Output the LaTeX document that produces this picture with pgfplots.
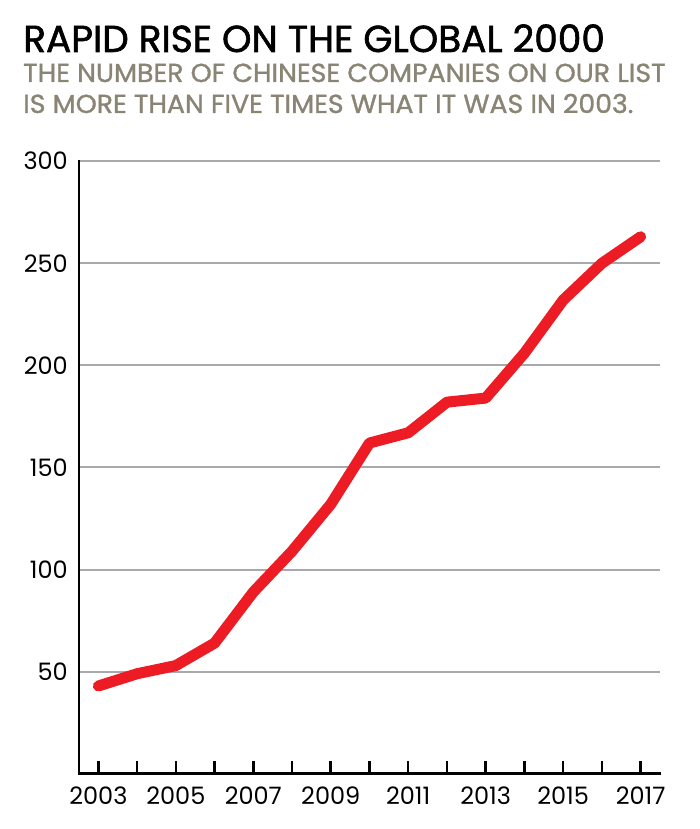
\documentclass[border=0pt]{standalone}
\usepackage{pgfplots}
\pgfplotsset{compat=1.18}
\usepackage{fontspec}
\setmainfont{Poppins}
\newfontfamily\titlefont[FakeBold=1.6]{Poppins}
\newfontfamily\subfont[FakeStretch=1.03, FakeBold=1.2]{Poppins}
\definecolor{linered}{HTML}{ED1C24}
\definecolor{subgrey}{HTML}{8A8474}
\definecolor{gridgrey}{HTML}{A7A9AC}
\begin{document}
\begin{tikzpicture}
\path[use as bounding box] (0,0) rectangle (700pt,829pt);
\node[anchor=base west, inner sep=0, font=\titlefont\fontsize{37.5}{40}\selectfont] at (23pt,777pt) {RAPID RISE ON THE GLOBAL 2000};
\node[anchor=base west, inner sep=0, text=subgrey, font=\subfont\fontsize{26}{28}\selectfont] at (23pt,747pt) {THE NUMBER OF CHINESE COMPANIES ON OUR LIST};
\node[anchor=base west, inner sep=0, text=subgrey, font=\subfont\fontsize{26}{28}\selectfont] at (23pt,716pt) {IS MORE THAN FIVE TIMES WHAT IT WAS IN 2003.};
\begin{axis}[
  at={(79pt,55.2pt)}, anchor=south west,
  scale only axis, width=581pt, height=612.6pt,
  xmin=2002.5, xmax=2017.5, ymin=0, ymax=300,
  axis x line=bottom, axis y line=left,
  axis line style={line width=2.7pt, -, line cap=rect},
  xtick={2003,2004,...,2017},
  xticklabels={2003,,2005,,2007,,2009,,2011,,2013,,2015,,2017},
  ytick={50,100,...,300},
  ymajorgrids, grid style={gridgrey, line width=2pt},
  major tick length=13pt, tick align=inside,
  xtick style={line width=2.5pt, black},
  ytick style={draw=none},
  ticklabel style={font=\fontsize{24}{24}\selectfont, inner sep=0pt},
  yticklabel style={anchor=east, xshift=-11pt},
  xticklabel style={anchor=north, yshift=-13pt},
  /pgf/number format/assume math mode=true,
  clip=false,
]
\addplot[linered, line width=11pt, line join=round, line cap=round] coordinates {
(2003,43) (2004,49) (2005,53) (2006,64) (2007,89) (2008,109) (2009,132)
(2010,162) (2011,167) (2012,182) (2013,184) (2014,206) (2015,232) (2016,250) (2017,263)
};
\end{axis}
\end{tikzpicture}
\end{document}
